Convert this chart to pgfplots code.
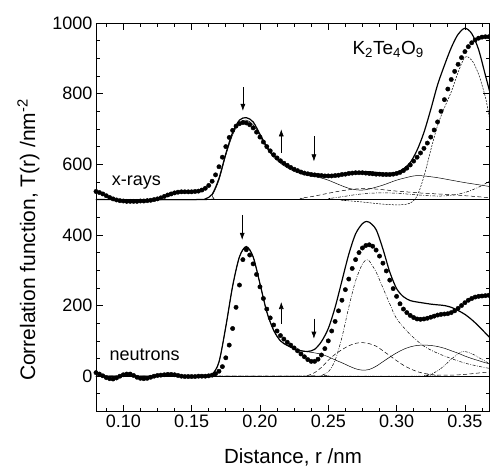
\documentclass[border=0pt]{standalone}
\usepackage{fontspec}
\setmainfont{Liberation Sans}
\usepackage{pgfplots}
\pgfplotsset{compat=1.18}
\usetikzlibrary{arrows.meta}

\begin{document}
\begin{tikzpicture}
\useasboundingbox (0,0) rectangle (490bp,468bp);
\begin{axis}[
 at={(96bp,56.5bp)}, anchor=south west, scale only axis,
 width=393.5bp, height=388.5bp,
 xmin=0.08, xmax=0.368, ymin=-100, ymax=1000,
 axis line style={line width=0.9pt},
 xtick={0.1,0.15,0.2,0.25,0.3,0.35},
 minor xtick={0.0875,0.1125,0.125,0.1375,0.1625,0.175,0.1875,0.2125,0.225,0.2375,0.2625,0.275,0.2875,0.3125,0.325,0.3375,0.3625},
 ytick={0,200,400,600,800,1000},
 minor ytick={-50,50,100,150,250,300,350,450,500,550,650,700,750,850,900,950},
 tick align=inside,
 major tick length=7bp, minor tick length=4bp,
 tick style={black, line width=0.7pt},
 tick label style={font=\fontsize{18bp}{20bp}\selectfont},
 xticklabel style={/pgf/number format/.cd, fixed, fixed zerofill, precision=2, assume math mode=true},
 yticklabel style={/pgf/number format/.cd, fixed, precision=0, set thousands separator={}, assume math mode=true},
]
% baselines
\addplot[black, line width=0.6pt] coordinates {(0.08,500) (0.368,500)};
\addplot[black, line width=1.3pt] coordinates {(0.08,0) (0.368,0)};

% ---------------- x-rays components ----------------
% Xc1 thin solid
\addplot[black, line width=0.5pt, smooth] coordinates {
(0.08,500) (0.16,500) (0.165,512) (0.17,555) (0.175,625) (0.18,683) (0.185,718) (0.19,725) (0.195,712) (0.20,680) (0.205,645) (0.21,620) (0.215,603) (0.22,590) (0.225,580) (0.23,573) (0.235,568) (0.24,565) (0.245,561) (0.25,555) (0.255,547) (0.26,539) (0.265,532) (0.27,528) (0.275,527) (0.28,530) (0.29,541) (0.30,555) (0.31,565) (0.315,568) (0.32,567) (0.33,562) (0.34,555) (0.35,548) (0.36,542) (0.368,537)};
% Xc2 dashed
\addplot[black, line width=0.5pt, dash pattern=on 4pt off 2.5pt, smooth] coordinates {
(0.08,500) (0.22,500) (0.23,504) (0.24,510) (0.25,518) (0.26,525) (0.27,530) (0.28,531) (0.29,528) (0.30,524) (0.31,521) (0.32,518) (0.33,516) (0.34,514) (0.35,511) (0.36,508) (0.368,505)};
% Xc3 dash-dot small
\addplot[black, line width=0.5pt, dash pattern=on 3pt off 1.5pt on 0.8pt off 1.5pt, smooth] coordinates {
(0.08,500) (0.24,500) (0.25,503) (0.26,508) (0.27,514) (0.28,518) (0.29,519) (0.30,518) (0.31,515) (0.32,512) (0.33,510) (0.34,512) (0.35,520) (0.36,535) (0.368,552)};
% Xc4 big component
\addplot[black, line width=0.5pt, dash pattern=on 2pt off 1.2pt, smooth] coordinates {
(0.08,500) (0.25,500) (0.26,498) (0.27,495) (0.28,491) (0.29,487) (0.30,485) (0.305,486) (0.31,490) (0.315,510) (0.32,565) (0.325,640) (0.33,710) (0.335,760) (0.34,805) (0.345,860) (0.35,903) (0.355,895) (0.36,855) (0.365,790) (0.368,730)};
% Xs total fit
\addplot[black, line width=1.2pt, smooth] coordinates {
(0.08,500) (0.155,500) (0.16,502) (0.165,515) (0.17,560) (0.175,630) (0.18,690) (0.185,725) (0.19,732) (0.195,720) (0.20,685) (0.205,650) (0.21,625) (0.215,607) (0.22,594) (0.225,585) (0.23,579) (0.235,575) (0.24,572) (0.245,570) (0.25,569) (0.255,569) (0.26,571) (0.265,574) (0.27,577) (0.275,579) (0.28,579) (0.285,577) (0.29,575) (0.295,574) (0.30,577) (0.305,587) (0.31,605) (0.315,640) (0.32,690) (0.325,755) (0.33,825) (0.335,880) (0.34,930) (0.345,968) (0.35,985) (0.355,970) (0.36,925) (0.365,852) (0.368,808)};
% Xd data
\addplot[only marks, mark=*, mark size=2.2pt, mark options={draw=none, fill=black}] coordinates {
(0.0800,523) (0.0825,520) (0.0850,516) (0.0875,511) (0.0900,506) (0.0925,502) (0.0950,499) (0.0975,497) (0.1000,496) (0.1025,495)
(0.1050,495) (0.1075,495) (0.1100,495) (0.1125,496) (0.1150,496) (0.1175,497) (0.1200,498) (0.1225,500) (0.1250,502) (0.1275,505)
(0.1300,509) (0.1325,513) (0.1350,516) (0.1375,519) (0.1400,521) (0.1425,522) (0.1450,522) (0.1475,522) (0.1500,522) (0.1525,523)
(0.1550,524) (0.1575,527) (0.1600,532) (0.1625,540) (0.1650,552) (0.1675,570) (0.1700,593) (0.1725,620) (0.1750,650) (0.1775,676)
(0.1800,696) (0.1825,708) (0.1850,715) (0.1875,718) (0.1900,717) (0.1925,712) (0.1950,703) (0.1975,691) (0.2000,677) (0.2025,663)
(0.2050,650) (0.2075,638) (0.2100,627) (0.2125,618) (0.2150,610) (0.2175,603) (0.2200,597) (0.2225,591) (0.2250,586) (0.2275,582)
(0.2300,578) (0.2325,575) (0.2350,573) (0.2375,571) (0.2400,570) (0.2425,569) (0.2450,568) (0.2475,567) (0.2500,567) (0.2525,567)
(0.2550,568) (0.2575,569) (0.2600,571) (0.2625,572) (0.2650,574) (0.2675,575) (0.2700,576) (0.2725,576) (0.2750,576) (0.2775,575)
(0.2800,574) (0.2825,573) (0.2850,572) (0.2875,572) (0.2900,571) (0.2925,571) (0.2950,571) (0.2975,572) (0.3000,574) (0.3025,577)
(0.3050,582) (0.3075,589) (0.3100,598) (0.3125,609) (0.3150,620) (0.3175,632) (0.3200,645) (0.3225,660) (0.3250,677) (0.3275,697)
(0.3300,720) (0.3325,750) (0.3350,783) (0.3375,813) (0.3400,840) (0.3425,863) (0.3450,883) (0.3475,902) (0.3500,919) (0.3525,933)
(0.3550,944) (0.3575,952) (0.3600,957) (0.3625,960) (0.3650,961) (0.3675,961)};

% ---------------- neutron components ----------------
% Nc1 thin solid
\addplot[black, line width=0.5pt, smooth] coordinates {
(0.08,0) (0.16,0) (0.165,5) (0.17,40) (0.175,140) (0.18,255) (0.185,338) (0.19,365) (0.195,338) (0.20,262) (0.205,182) (0.21,130) (0.215,100) (0.22,87) (0.225,78) (0.23,72) (0.235,69) (0.24,66) (0.245,62) (0.25,55) (0.255,46) (0.26,38) (0.265,29) (0.27,21) (0.275,17) (0.28,19) (0.285,28) (0.29,41) (0.295,54) (0.30,66) (0.305,76) (0.31,83) (0.315,87) (0.32,88) (0.325,87) (0.33,84) (0.335,79) (0.34,72) (0.345,65) (0.35,57) (0.355,50) (0.36,44) (0.365,38) (0.368,35)};
% Nc2 dashed
\addplot[black, line width=0.5pt, dash pattern=on 4pt off 2.5pt, smooth] coordinates {
(0.08,0) (0.23,0) (0.235,2) (0.24,10) (0.245,25) (0.25,45) (0.255,62) (0.26,75) (0.265,86) (0.27,93) (0.275,95) (0.28,92) (0.285,85) (0.29,72) (0.295,58) (0.30,44) (0.305,31) (0.31,21) (0.315,13) (0.32,8) (0.325,5) (0.33,3) (0.34,3) (0.35,5) (0.36,9) (0.368,12)};
% Nc3 dash-dot big
\addplot[black, line width=0.5pt, dash pattern=on 3pt off 1.5pt on 0.8pt off 1.5pt, smooth] coordinates {
(0.08,0) (0.24,0) (0.245,3) (0.25,12) (0.255,45) (0.26,110) (0.265,195) (0.27,270) (0.275,318) (0.278,329) (0.28,326) (0.285,295) (0.29,250) (0.295,205) (0.30,163) (0.31,118) (0.32,85) (0.33,65) (0.34,50) (0.35,37) (0.36,28) (0.368,22)};
% Nc4 second hump
\addplot[black, line width=0.5pt, dash pattern=on 2.5pt off 1.2pt on 0.8pt off 1.2pt on 0.8pt off 1.2pt, smooth] coordinates {
(0.08,0) (0.315,0) (0.32,2) (0.325,6) (0.33,15) (0.335,30) (0.34,48) (0.345,63) (0.3485,70) (0.352,68) (0.356,62) (0.36,53) (0.365,42) (0.368,35)};
% Ns total fit
\addplot[black, line width=1.2pt, smooth] coordinates {
(0.08,0) (0.16,0) (0.165,5) (0.17,40) (0.175,140) (0.18,255) (0.185,338) (0.19,367) (0.195,338) (0.20,262) (0.205,182) (0.21,130) (0.215,100) (0.22,87) (0.225,78) (0.23,72) (0.235,70) (0.24,76) (0.245,98) (0.25,135) (0.255,195) (0.26,270) (0.265,345) (0.27,403) (0.275,432) (0.278,438) (0.28,436) (0.285,415) (0.29,360) (0.295,295) (0.30,248) (0.305,225) (0.31,214) (0.315,210) (0.32,207) (0.325,204) (0.33,202) (0.335,200) (0.34,195) (0.345,186) (0.35,175) (0.355,160) (0.36,142) (0.365,122) (0.368,110)};
% Nd data
\addplot[only marks, mark=*, mark size=2.2pt, mark options={draw=none, fill=black}] coordinates {
(0.0800,10) (0.0825,6) (0.0850,1) (0.0875,-4) (0.0900,-7) (0.0925,-8) (0.0950,-5) (0.0975,0) (0.1000,4) (0.1025,6)
(0.1050,6) (0.1075,2) (0.1100,-3) (0.1125,-6) (0.1150,-7) (0.1175,-6) (0.1200,-3) (0.1225,0) (0.1250,2) (0.1275,3)
(0.1300,4) (0.1325,5) (0.1350,5) (0.1375,4) (0.1400,2) (0.1425,0) (0.1450,-1) (0.1475,-1) (0.1500,-1) (0.1525,-1)
(0.1550,0) (0.1575,0) (0.1600,0) (0.1625,1) (0.1650,3) (0.1675,7) (0.1700,14) (0.1725,27) (0.1750,52) (0.1775,88)
(0.1800,135) (0.1825,195) (0.1850,258) (0.1875,330) (0.1900,358) (0.1925,343) (0.1950,318) (0.1975,288) (0.2000,253) (0.2025,220)
(0.2050,190) (0.2075,165) (0.2100,145) (0.2125,128) (0.2150,115) (0.2175,105) (0.2200,96) (0.2225,88) (0.2250,80) (0.2275,72)
(0.2300,63) (0.2325,55) (0.2350,47) (0.2375,42) (0.2400,42) (0.2425,48) (0.2450,60) (0.2475,78) (0.2500,100) (0.2525,128)
(0.2550,155) (0.2575,185) (0.2600,215) (0.2625,245) (0.2650,275) (0.2675,305) (0.2700,330) (0.2725,350) (0.2750,363) (0.2775,370)
(0.2800,372) (0.2825,368) (0.2850,357) (0.2875,340) (0.2900,320) (0.2925,298) (0.2950,272) (0.2975,248) (0.3000,226) (0.3025,205)
(0.3050,190) (0.3075,180) (0.3100,172) (0.3125,166) (0.3150,162) (0.3175,161) (0.3200,162) (0.3225,164) (0.3250,167) (0.3275,170)
(0.3300,173) (0.3325,175) (0.3350,176) (0.3375,177) (0.3400,180) (0.3425,185) (0.3450,192) (0.3475,200) (0.3500,208) (0.3525,215)
(0.3550,220) (0.3575,224) (0.3600,226) (0.3625,227) (0.3650,228) (0.3675,229)};

% arrows
\draw[-{Latex[length=7bp,width=5bp]}, line width=0.6pt] (axis cs:0.1875,818) -- (axis cs:0.1875,751);
\draw[-{Latex[length=7bp,width=5bp]}, line width=0.6pt] (axis cs:0.2156,632) -- (axis cs:0.2156,699);
\draw[-{Latex[length=7bp,width=5bp]}, line width=0.6pt] (axis cs:0.2395,680) -- (axis cs:0.2395,608);
\draw[-{Latex[length=7bp,width=5bp]}, line width=0.6pt] (axis cs:0.187,457) -- (axis cs:0.187,386);
\draw[-{Latex[length=7bp,width=5bp]}, line width=0.6pt] (axis cs:0.2156,149) -- (axis cs:0.2156,210);
\draw[-{Latex[length=7bp,width=5bp]}, line width=0.6pt] (axis cs:0.2395,163) -- (axis cs:0.2395,106);

% texts
\node[anchor=base west, inner sep=0pt, font=\fontsize{18bp}{20bp}\selectfont] at (axis cs:0.0915,539) {x-rays};
\node[anchor=base west, inner sep=0pt, font=\fontsize{18bp}{20bp}\selectfont] at (axis cs:0.0898,43) {neutrons};
\node[anchor=base west, inner sep=0pt, font=\fontsize{19bp}{21bp}\selectfont] at (axis cs:0.2676,912) {K\textsubscript{2}Te\textsubscript{4}O\textsubscript{9}};
\end{axis}
\node[rotate=90, anchor=base, inner sep=0pt, font=\fontsize{21bp}{24bp}\selectfont] at (35bp,228bp) {Correlation function, T(r) /nm\textsuperscript{-2}};
\node[anchor=base, inner sep=0pt, font=\fontsize{20.5bp}{24bp}\selectfont] at (293bp,5bp) {Distance, r /nm};
\end{tikzpicture}
\end{document}
